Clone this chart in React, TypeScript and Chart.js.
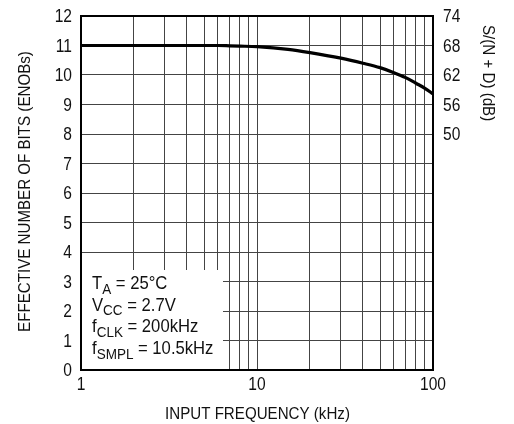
import { useEffect, useRef } from "react";
import { Chart, registerables } from "chart.js";

Chart.register(...registerables);

// ---- data ----
const frequencyKHz = [1, 2, 3, 4, 5, 6, 7, 8, 10, 15, 20, 30, 40, 50, 60, 70, 80, 90, 100];
const enobValues = [11, 11, 11, 11, 11, 11, 10.99, 10.98, 10.96, 10.87, 10.76, 10.57, 10.4, 10.25, 10.08, 9.91, 9.72, 9.55, 9.36];
const xGridValues = [1, 2, 3, 4, 5, 6, 7, 8, 9, 10, 20, 30, 40, 50, 60, 70, 80, 90, 100];
const xTickLabels = [1, 10, 100];
const yTickValues = [0, 1, 2, 3, 4, 5, 6, 7, 8, 9, 10, 11, 12];
const dbTickValues = [50, 56, 62, 68, 74];
const legendLines: [string, string, string][] = [
  ["T", "A", " = 25°C"],
  ["V", "CC", " = 2.7V"],
  ["f", "CLK", " = 200kHz"],
  ["f", "SMPL", " = 10.5kHz"],
];
const xTitle = "INPUT FREQUENCY (kHz)";
const yTitle = "EFFECTIVE NUMBER OF BITS (ENOBs)";
const y2Title = "S/(N + D) (dB)";

const FONT = "'Liberation Sans', Arial, sans-serif";
const SX = 0.89;
const INK = "#111";

function txt(ctx: CanvasRenderingContext2D, s: string, x: number, y: number, align: CanvasTextAlign, size: number, rot = 0, base: CanvasTextBaseline = "alphabetic") {
  ctx.save();
  ctx.translate(x, y);
  if (rot) ctx.rotate(rot);
  ctx.scale(SX, 1);
  ctx.font = `${size}px ${FONT}`;
  ctx.textAlign = align;
  ctx.textBaseline = base;
  ctx.fillStyle = INK;
  ctx.fillText(s, 0, 0);
  ctx.restore();
}

const decor = {
  id: "decor",
  beforeDatasetsDraw(chart: any) {
    const { ctx, chartArea } = chart;
    ctx.save();
    ctx.fillStyle = "#fff";
    ctx.fillRect(chartArea.left + 1, 270, 222 - chartArea.left, chartArea.bottom - 270);
    ctx.restore();
  },
  afterDraw(chart: any) {
    const { ctx, chartArea, scales } = chart;
    ctx.save();
    // frame
    ctx.strokeStyle = "#000";
    ctx.lineWidth = 2;
    ctx.strokeRect(chartArea.left, chartArea.top, chartArea.right - chartArea.left, chartArea.bottom - chartArea.top);
    ctx.restore();

    // tick labels
    for (const v of yTickValues) {
      txt(ctx, String(v), 72, scales.y.getPixelForValue(v) + 6.4, "right", 17.5);
    }
    for (const v of dbTickValues) {
      txt(ctx, String(v), 443, scales.y2.getPixelForValue(v) + 6.4, "left", 17.5);
    }
    for (const v of xTickLabels) {
      txt(ctx, String(v), scales.x.getPixelForValue(v), 389.5, "center", 17.5);
    }

    // legend text
    let base = 289;
    for (const [main, sub, rest] of legendLines) {
      ctx.save();
      ctx.translate(92, 0);
      ctx.scale(0.9, 1);
      ctx.fillStyle = INK;
      ctx.textBaseline = "alphabetic";
      ctx.textAlign = "left";
      let x = 0;
      ctx.font = `18.5px ${FONT}`;
      ctx.fillText(main, x, base);
      x += ctx.measureText(main).width;
      ctx.font = `15px ${FONT}`;
      ctx.fillText(sub, x, base + 4.5);
      x += ctx.measureText(sub).width;
      ctx.font = `18.5px ${FONT}`;
      ctx.fillText(rest, x, base);
      ctx.restore();
      base += 21.7;
    }

    // titles
    txt(ctx, xTitle, 257.5, 419, "center", 17);
    txt(ctx, yTitle, 25.5, 191.5, "center", 17, -Math.PI / 2, "middle");
    txt(ctx, y2Title, 488, 25, "left", 17, Math.PI / 2, "middle");
  },
};

export default function App() {
  const ref = useRef<HTMLCanvasElement>(null);
  useEffect(() => {
    const chart = new Chart(ref.current!, {
      type: "line",
      data: {
        datasets: [
          {
            data: frequencyKHz.map((f, i) => ({ x: f, y: enobValues[i] })),
            borderColor: "#000",
            borderWidth: 3.2,
            pointRadius: 0,
            cubicInterpolationMode: "monotone",
            fill: false,
          },
        ],
      },
      options: {
        animation: false,
        responsive: false,
        devicePixelRatio: 1,
        layout: { padding: { top: 16, left: 0, right: 0, bottom: 0 } },
        plugins: { legend: { display: false }, tooltip: { enabled: false } },
        scales: {
          x: {
            type: "logarithmic",
            min: 1,
            max: 100,
            afterBuildTicks: (s: any) => {
              s.ticks = xGridValues.map((v) => ({ value: v }));
            },
            afterFit: (s: any) => {
              s.height = 54;
            },
            ticks: { display: false },
            grid: { color: "#444", lineWidth: 1, drawTicks: false },
            border: { display: false },
          },
          y: {
            type: "linear",
            position: "left",
            min: 0,
            max: 12,
            afterBuildTicks: (s: any) => {
              s.ticks = yTickValues.map((v) => ({ value: v }));
            },
            afterFit: (s: any) => {
              s.width = 81;
            },
            ticks: { display: false },
            grid: { color: "#444", lineWidth: 1, drawTicks: false },
            border: { display: false },
          },
          y2: {
            type: "linear",
            position: "right",
            min: 2,
            max: 74,
            afterBuildTicks: (s: any) => {
              s.ticks = dbTickValues.map((v) => ({ value: v }));
            },
            afterFit: (s: any) => {
              s.width = 81;
            },
            ticks: { display: false },
            grid: { display: false, drawTicks: false },
            border: { display: false },
          },
        },
      },
      plugins: [decor],
    } as any);
    return () => chart.destroy();
  }, []);
  return (
    <div style={{ position: "fixed", left: 0, top: 0, width: 514, height: 424, background: "#fff" }}>
      <canvas ref={ref} width={514} height={424} />
    </div>
  );
}
